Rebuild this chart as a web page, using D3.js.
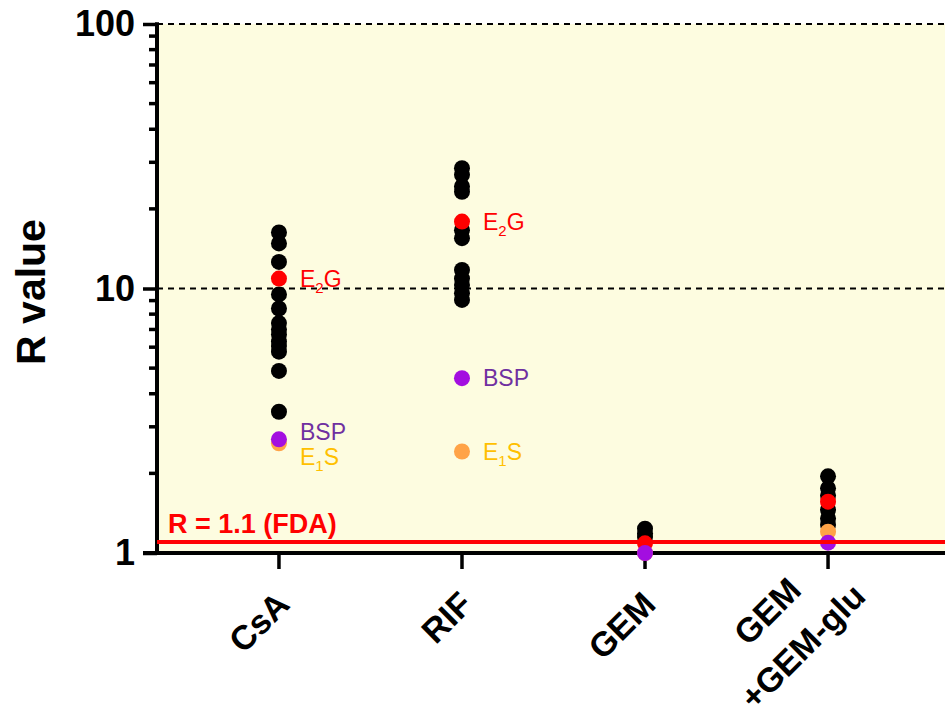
<!DOCTYPE html>
<html><head><meta charset="utf-8">
<script src="https://cdn.jsdelivr.net/npm/d3@7"></script>
<style>body{margin:0;background:#fff;} text{font-family:"Liberation Sans",Arial,sans-serif;}</style>
</head><body><svg id="c" width="945" height="704"></svg>
<script>
const categories = ["CsA", "RIF", "GEM", "GEM\n+GEM-glu"];
const blackValues = [
  [16.3, 14.8, 12.6, 9.5, 8.4, 7.4, 7.0, 6.7, 6.3, 6.06, 5.77, 4.88, 3.42],
  [28.5, 26.9, 24.3, 23.2, 16.6, 15.5, 11.75, 10.9, 10.3, 9.6, 9.05],
  [1.235, 1.187, 1.15],
  [1.95, 1.756, 1.65, 1.454, 1.35, 1.276]
];
const e1sValues = [2.60, 2.42, 1.0, 1.204];
const e2gValues = [10.9, 17.9, 1.088, 1.563];
const bspValues = [2.69, 4.58, 1.0, 1.094];
// annotation labels (value where each label sits)
const annotations = [
  {cat: "CsA", text: "E", sub: "2", tail: "G", v: 10.9, color: "#ff0000"},
  {cat: "CsA", text: "BSP", sub: "", tail: "", v: 2.87, color: "#7030a0"},
  {cat: "CsA", text: "E", sub: "1", tail: "S", v: 2.31, color: "#ffc000"},
  {cat: "RIF", text: "E", sub: "2", tail: "G", v: 17.9, color: "#ff0000"},
  {cat: "RIF", text: "BSP", sub: "", tail: "", v: 4.58, color: "#7030a0"},
  {cat: "RIF", text: "E", sub: "1", tail: "S", v: 2.42, color: "#ffc000"}
];
const yTicks = [1, 10, 100];
const gridValues = [10, 100];
const fdaValue = 1.1;

const svg = d3.select("#c");
const x = d3.scalePoint().domain(categories).range([160, 947]).padding(0.65);
const y = d3.scaleLog().domain([1, 100]).range([553, 24]);
const X0 = 157, X1 = 945;

// background
svg.append("rect").attr("x", X0).attr("y", y(100))
  .attr("width", X1 - X0).attr("height", y(1) - y(100))
  .attr("fill", "#fdfce0");

// dashed grid
svg.selectAll(".grid").data(gridValues).join("line")
  .attr("x1", X0).attr("x2", X1).attr("y1", d => y(d)).attr("y2", d => y(d))
  .attr("stroke", "#000").attr("stroke-width", 2).attr("stroke-dasharray", "6,5");

// y axis
const yAxis = d3.axisLeft(y).tickValues(yTicks).tickFormat(d3.format("d")).tickSize(14).tickPadding(8);
const ya = svg.append("g").attr("transform", `translate(${X0},0)`).call(yAxis);
ya.select(".domain").remove();
ya.selectAll(".tick line").attr("stroke-width", 3.5);
ya.selectAll(".tick text").attr("font-size", 36).attr("font-weight", "bold").attr("fill", "#000")
  .attr("font-family", "Liberation Sans, Arial, sans-serif");
const minor = [];
[1, 10].forEach(b => { for (let k = 2; k <= 9; k++) minor.push(b * k); });
svg.selectAll(".minor").data(minor).join("line")
  .attr("x1", X0 - 8).attr("x2", X0).attr("y1", d => y(d)).attr("y2", d => y(d))
  .attr("stroke", "#000").attr("stroke-width", 3.5);
svg.append("line").attr("x1", X0).attr("x2", X0).attr("y1", y(100) - 1.75).attr("y2", y(1) + 2)
  .attr("stroke", "#000").attr("stroke-width", 4);

// x axis
svg.append("line").attr("x1", X0 - 14).attr("x2", X1).attr("y1", y(1)).attr("y2", y(1))
  .attr("stroke", "#000").attr("stroke-width", 4);
svg.selectAll(".xt").data(categories).join("line")
  .attr("x1", d => x(d)).attr("x2", d => x(d)).attr("y1", y(1)).attr("y2", y(1) + 16)
  .attr("stroke", "#000").attr("stroke-width", 3.5);

// x labels (rotated, lines centred on each other)
categories.forEach(c => {
  const lines = c.split("\n");
  const multi = lines.length > 1;
  const g = svg.append("g")
    .attr("transform", `translate(${x(c) + (multi ? 31 : 4)},${multi ? 590 : 598}) rotate(-45)`);
  const ts = lines.map((l, i) => g.append("text").text(l)
    .attr("font-size", 34).attr("font-weight", "bold").attr("fill", "#000")
    .attr("dy", "0.35em")
    .attr("y", (i - (lines.length - 1)) * 50));
  const maxW = d3.max(ts, t => t.node().getComputedTextLength());
  ts.forEach(t => t.attr("text-anchor", "middle").attr("x", -maxW / 2));
});

// y title
svg.append("text").attr("transform", "translate(45,292) rotate(-90)")
  .attr("text-anchor", "middle").attr("font-size", 41).attr("font-weight", "bold").text("R value");

// points
const pts = (vals, color) => {
  const data = [];
  vals.forEach((arr, i) => [].concat(arr).forEach(v => data.push({c: categories[i], v})));
  svg.append("g").selectAll("circle").data(data).join("circle")
    .attr("cx", d => x(d.c)).attr("cy", d => y(d.v)).attr("r", 8).attr("fill", color);
};
pts(blackValues, "#000");
pts(e1sValues, "#ffa347");
pts(e2gValues, "#ff0000");
pts(bspValues, "#a30ee0");

// FDA line
svg.append("line").attr("x1", X0).attr("x2", X1).attr("y1", y(fdaValue)).attr("y2", y(fdaValue))
  .attr("stroke", "#ff0000").attr("stroke-width", 4);
svg.append("text").attr("x", 168).attr("y", 533).attr("font-size", 27).attr("font-weight", "bold")
  .attr("fill", "#ff0000").text("R = 1.1 (FDA)");

// annotations
annotations.forEach(a => {
  const t = svg.append("text").attr("x", x(a.cat) + 21).attr("y", y(a.v)).attr("dy", "0.36em")
    .attr("font-size", 23).attr("fill", a.color);
  t.append("tspan").text(a.text);
  if (a.sub) {
    t.append("tspan").text(a.sub).attr("font-size", 15).attr("dy", 6);
    t.append("tspan").text(a.tail).attr("dy", -6);
  }
});
</script></body></html>
